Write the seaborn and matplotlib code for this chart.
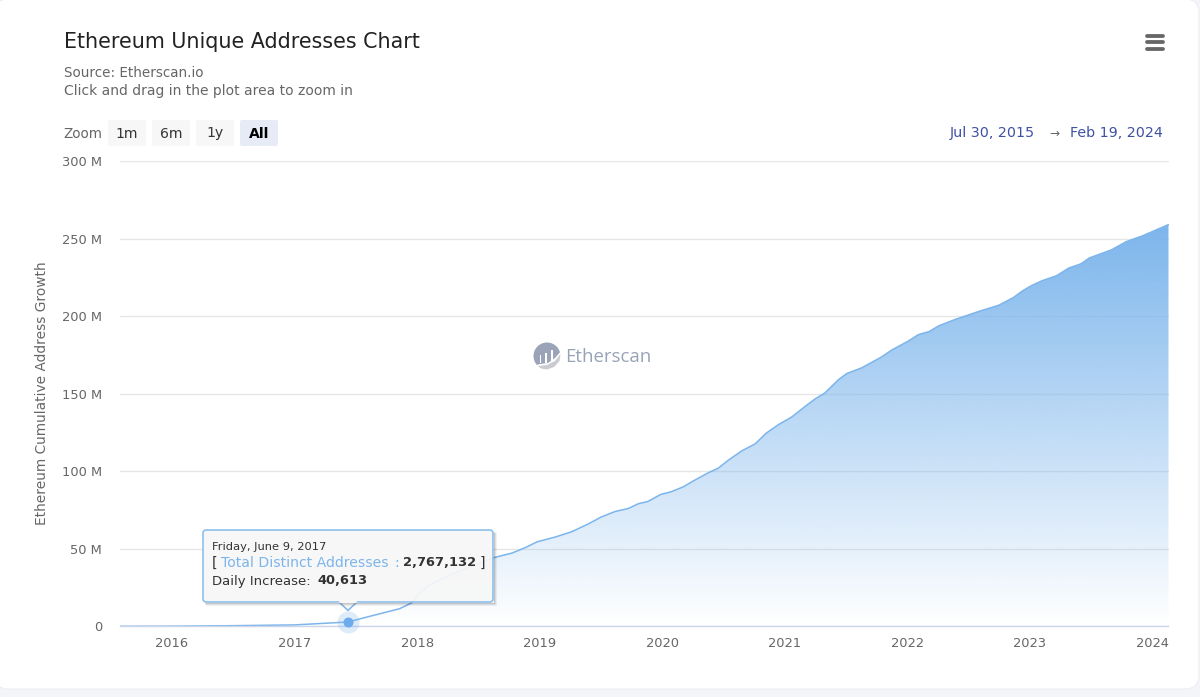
import numpy as np
import pandas as pd
import matplotlib
matplotlib.use("Agg")
import matplotlib.pyplot as plt
import matplotlib.dates as mdates
import seaborn as sns
from matplotlib.patches import FancyBboxPatch, Circle, Polygon, Rectangle
from matplotlib.ticker import FuncFormatter

# values, in millions of addresses
dates = ["2015-07-30", "2016-01-01", "2016-07-01", "2017-01-01", "2017-06-09", "2017-08-03",
         "2017-11-09", "2017-12-15", "2018-01-08", "2018-02-01", "2018-04-07", "2018-08-13",
         "2018-10-12", "2018-11-22", "2018-12-25", "2019-02-19", "2019-04-07", "2019-05-26",
         "2019-07-05", "2019-08-14", "2019-09-23", "2019-10-22", "2019-11-20", "2019-12-28",
         "2020-01-29", "2020-03-05", "2020-04-04", "2020-05-18", "2020-06-17", "2020-07-16",
         "2020-08-25", "2020-10-05", "2020-11-07", "2020-12-13", "2021-01-22", "2021-03-04",
         "2021-04-02", "2021-05-01", "2021-06-10", "2021-07-05", "2021-08-18", "2021-10-16",
         "2021-11-15", "2022-01-05", "2022-02-03", "2022-03-07", "2022-04-05", "2022-05-26",
         "2022-08-08", "2022-10-01", "2022-11-14", "2022-12-09", "2023-01-05", "2023-02-07",
         "2023-03-22", "2023-04-28", "2023-06-03", "2023-06-28", "2023-09-02", "2023-10-16",
         "2023-12-03", "2024-02-19"]
addresses = [0.0, 0.05, 0.4, 0.9, 2.77, 5.9,
             11.3, 15.0, 21.5, 26.0, 33.0, 44.0,
             47.3, 51.0, 54.5, 57.7, 61.0, 66.0,
             70.6, 74.0, 76.0, 79.0, 80.5, 85.0,
             86.8, 90.0, 93.8, 99.0, 102.0, 107.0,
             113.0, 117.7, 124.6, 130.0, 135.0, 142.0,
             146.7, 150.5, 159.0, 163.0, 166.6, 173.6,
             178.0, 184.0, 188.0, 190.0, 193.7, 198.0,
             203.4, 207.0, 212.0, 216.0, 219.5, 222.8,
             226.0, 231.0, 233.7, 237.5, 242.7, 248.0,
             251.7, 259.0]
y_ticks = [0, 50, 100, 150, 200, 250, 300]
x_years = list(range(2016, 2025))
hover_date = "2017-06-09"
hover_value = 2.767132

W, H = 1200, 697
BLUE = "#7cb5ec"
GREY = "#666666"


def fpx(px):
    # css pixels to points at dpi 100
    return px * 0.72


sns.set_theme(style="white")
plt.rcParams["font.family"] = ["DejaVu Sans"]

df = pd.DataFrame({"date": pd.to_datetime(dates), "addresses": addresses})
fig = plt.figure(figsize=(W / 100, H / 100), dpi=100, facecolor="#f4f5f9")

# white card behind everything
bg = fig.add_axes([0, 0, 1, 1], zorder=0)
bg.set_xlim(0, W)
bg.set_ylim(H, 0)
bg.axis("off")
bg.add_patch(FancyBboxPatch((-6, -1), 1205, 690, boxstyle="round,pad=0,rounding_size=14",
                            fc="white", ec="#eceef3", lw=0.8))

# plot area
ax = fig.add_axes([120 / W, 1 - 626.3 / H, 1048.5 / W, 465.3 / H], zorder=1)
ax.patch.set_alpha(0)
ax.set_axisbelow(True)
ax.yaxis.grid(True, color="#e6e6e6", lw=1)
ax.xaxis.grid(False)

sns.lineplot(data=df, x="date", y="addresses", ax=ax, color=BLUE, lw=1.1, errorbar=None)

# gradient area under the line
area = ax.fill_between(df["date"], df["addresses"], 0, facecolor="none", edgecolor="none")
x_lo, x_hi = mdates.date2num(df["date"].iloc[0]), mdates.date2num(df["date"].iloc[-1])
top = max(addresses)
grad = np.zeros((256, 2, 4))
grad[..., :3] = matplotlib.colors.to_rgb(BLUE)
grad[..., 3] = np.linspace(1, 0, 256)[:, None]
im = ax.imshow(grad, extent=[x_lo, x_hi, 0, top], aspect="auto", origin="upper", zorder=1.5)
im.set_clip_path(area.get_paths()[0], transform=ax.transData)

# hovered point
hx = pd.to_datetime(hover_date)
ax.scatter([hx], [hover_value], s=fpx(22) ** 2, color=BLUE, alpha=0.25, lw=0, zorder=4, clip_on=False)
ax.scatter([hx], [hover_value], s=fpx(10) ** 2, color="#6cabee", lw=0, zorder=5, clip_on=False)

ax.set_xlim(x_lo, x_hi)
ax.set_ylim(0, 300)
ax.set_yticks(y_ticks)
ax.yaxis.set_major_formatter(FuncFormatter(lambda v, p: "0" if v == 0 else f"{int(v)} M"))
ax.set_xticks([mdates.date2num(pd.Timestamp(year=y, month=1, day=1)) for y in x_years])
ax.set_xticklabels([str(y) for y in x_years])
ax.tick_params(axis="x", length=fpx(10), width=1, color="#ccd6eb", labelsize=fpx(13), labelcolor=GREY, pad=fpx(1))
ax.tick_params(axis="y", length=0, labelsize=fpx(13), labelcolor=GREY, pad=fpx(18))
ax.set_xlabel("")
ax.set_ylabel("")
sns.despine(ax=ax, left=True, top=True, right=True)
ax.spines["bottom"].set_color("#ccd6eb")
ax.spines["bottom"].set_linewidth(1)

# everything else goes on a pixel overlay
ov = fig.add_axes([0, 0, 1, 1], zorder=2)
ov.set_xlim(0, W)
ov.set_ylim(H, 0)
ov.axis("off")
ov.patch.set_alpha(0)


def txt(x, y, s, size, color=GREY, **kw):
    kw.setdefault("va", "center")
    return ov.text(x, y, s, fontsize=fpx(size), color=color, **kw)


txt(64, 42, "Ethereum Unique Addresses Chart", 20.6, "#222222")
txt(64, 73, "Source: Etherscan.io", 13.5, "#666666")
txt(64, 91, "Click and drag in the plot area to zoom in", 13.85, "#666666")
txt(42, 393.5, "Ethereum Cumulative Address Growth", 13.7, GREY, rotation=90, ha="center")

# zoom buttons
txt(63, 133.5, "Zoom", 13.5, GREY)
for x0, label in zip([108, 152, 196, 240], ["1m", "6m", "1y", "All"]):
    active = label == "All"
    ov.add_patch(FancyBboxPatch((x0, 120), 38, 26, boxstyle="round,pad=0,rounding_size=2",
                                fc="#e6ebf5" if active else "#f7f7f7", ec="none"))
    txt(x0 + 19, 133.5, label, 14, "#000000" if active else "#333333", ha="center",
        fontweight="bold" if active else "normal")

# date range
txt(1035, 133, "Jul 30, 2015", 14.2, "#3f51a3", ha="right")
txt(1054, 133, "→", 12, "#666666", ha="center")
txt(1163, 133, "Feb 19, 2024", 14.2, "#3f51a3", ha="right")

# menu icon
for y0 in [35.5, 42, 48.5]:
    ov.plot([1147, 1163], [y0, y0], color="#666666", lw=fpx(3.8), solid_capstyle="round")

# watermark
ov.add_patch(Circle((547, 356), 13.5, fc="#9aa3b8", ec="none"))
for bx, bh in zip([539.5, 545, 551], [8, 10, 13]):
    ov.add_patch(Rectangle((bx, 363 - bh), 1.5, bh, fc="white", ec="none"))
ov.add_patch(Polygon([(533, 366), (540, 364), (548, 363), (555, 358), (562, 350), (563, 372), (533, 372)],
                     fc="white", ec="none"))
ov.add_patch(Polygon([(538, 366), (547, 365), (555, 361), (560.5, 354), (559.5, 361),
                      (554, 367), (547, 369.5), (541, 368.5)], fc="#c9cbd0", ec="none"))
txt(565.5, 356.5, "Etherscan", 18.7, "#98a3b8", family="Open Sans")

# tooltip, soft shadow only along the bottom and right edges
for off, a in [(1, 0.22), (2, 0.12), (3, 0.05)]:
    ov.plot([205, 493 + off], [602 + off, 602 + off], color="black", alpha=a, lw=0.75, solid_capstyle="butt")
    ov.plot([493 + off, 493 + off], [532, 602 + off], color="black", alpha=a, lw=0.75, solid_capstyle="butt")
ov.add_patch(FancyBboxPatch((203, 530), 290, 72, boxstyle="round,pad=0,rounding_size=3",
                            fc="#f7f7f7", ec=BLUE, lw=1.1, alpha=0.93))
ov.add_patch(Polygon([(339, 602), (348, 610.5), (357, 602)], closed=False, fc="#f7f7f7", ec=BLUE, lw=1.1))
ov.plot([339.7, 356.3], [602, 602], color="#f7f7f7", lw=1.6)
txt(212, 546.5, "Friday, June 9, 2017", 11.5, "#333333")
txt(212, 563, "[", 14, "#333333")
txt(221, 563, "Total Distinct Addresses", 14, BLUE)
txt(394, 563, ":", 14, BLUE)
txt(403, 563, "2,767,132", 13, "#333333", fontweight="bold")
txt(480, 563, "]", 14, "#333333")
txt(212, 581, "Daily Increase:", 13.3, "#333333")
txt(317, 581, "40,613", 13, "#333333", fontweight="bold")

fig.savefig("out.png", dpi=100, facecolor=fig.get_facecolor())
